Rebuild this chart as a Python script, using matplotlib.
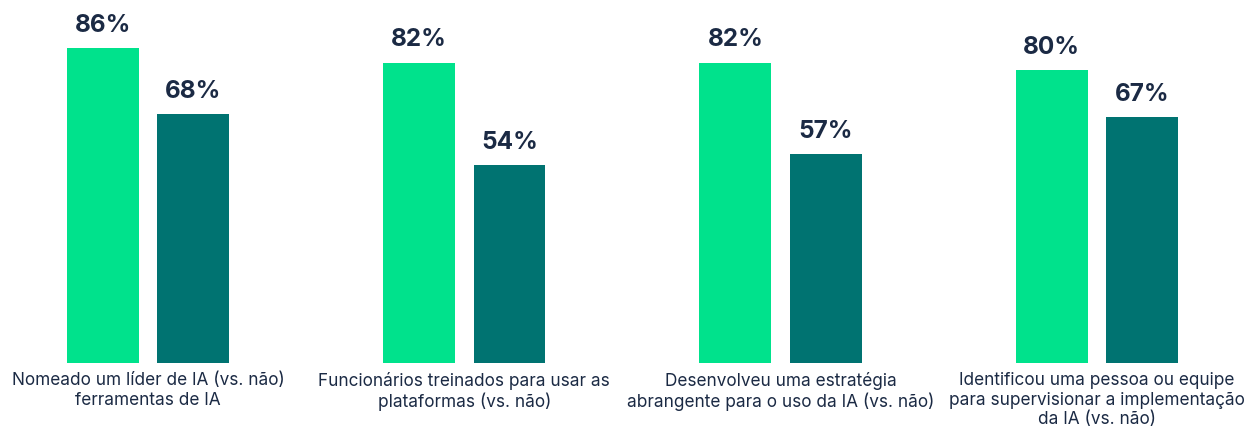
import matplotlib
matplotlib.use("Agg")
import matplotlib.pyplot as plt
import numpy as np

categories = [
    "Nomeado um líder de IA (vs. não)\nferramentas de IA",
    "Funcionários treinados para usar as\nplataformas (vs. não)",
    "Desenvolveu uma estratégia\nabrangente para o uso da IA (vs. não)",
    "Identificou uma pessoa ou equipe\npara supervisionar a implementação\nda IA (vs. não)",
]
with_practice = [86, 82, 82, 80]
without_practice = [68, 54, 57, 67]

GREEN = "#00E28C"
TEAL = "#007371"
TEXT = "#1B2A44"

plt.rcParams['font.family'] = ['Inter', 'DejaVu Sans']

fig = plt.figure(figsize=(12.54, 4.28), dpi=100)
ax = fig.add_axes([0, 0.1526, 1, 0.8474])

x = np.arange(len(categories))
w = 0.2275
off = 0.143
b1 = ax.bar(x - off, with_practice, w, color=GREEN)
b2 = ax.bar(x + off, without_practice, w, color=TEAL)

for bars, vals in ((b1, with_practice), (b2, without_practice)):
    for bar, v in zip(bars, vals):
        ax.annotate(f"{v}%", (bar.get_x() + bar.get_width() / 2, v),
                    xytext=(0, 8), textcoords="offset points",
                    ha="center", va="bottom", fontsize=17.5,
                    fontweight="bold", color=TEXT)

for xi, lab in zip(x, categories):
    ax.annotate(lab, (xi, 0), xytext=(0, -6.5), textcoords="offset points",
                ha="center", va="top", fontsize=12.4, color=TEXT,
                linespacing=1.22, annotation_clip=False)

ax.set_xlim(-0.468, 3.497)
ax.set_ylim(0, 99.1)
ax.axis("off")

fig.savefig("out.png", dpi=100)
